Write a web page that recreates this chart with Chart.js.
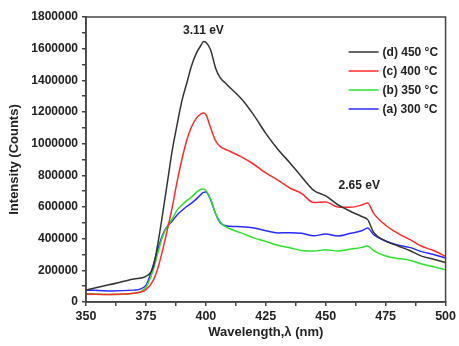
<!DOCTYPE html>
<html>
<head>
<meta charset="utf-8">
<script src="https://cdn.jsdelivr.net/npm/chart.js@4/dist/chart.umd.min.js"></script>
<style>
  html, body { margin: 0; padding: 0; background: #fff; }
  #wrap { width: 459px; height: 346px; }
</style>
</head>
<body>
<div id="wrap"><canvas id="plChart"></canvas></div>
<script>
// wavelength grid (nm)
const wavelength = [350, 360, 370, 375, 378, 380, 382, 384, 386, 388, 390, 392, 394, 396, 398, 399, 400,
  402, 404, 406, 408, 410, 415, 420, 425, 430, 435, 440, 445, 450, 455, 460, 465, 467.5, 470, 475, 480,
  485, 490, 495, 500]

// PL intensity (counts) per annealing temperature
const t450 = [75000, 110000, 145000, 162000, 220000, 370000, 560000, 760000, 960000, 1120000, 1270000,
  1380000, 1490000, 1570000, 1622000, 1645000, 1640000, 1592000, 1480000, 1415000, 1385000, 1355000,
  1280000, 1180000, 1065000, 965000, 880000, 790000, 705000, 670000, 615000, 575000, 540000, 520000,
  440000, 385000, 355000, 325000, 290000, 270000, 250000]
const t400 = [50000, 48000, 55000, 78000, 135000, 215000, 330000, 460000, 600000, 760000, 900000,
  1020000, 1105000, 1160000, 1188000, 1194000, 1185000, 1100000, 1020000, 982000, 965000, 952000,
  915000, 870000, 815000, 770000, 720000, 685000, 628000, 632000, 600000, 598000, 612000, 625000,
  560000, 485000, 435000, 395000, 352000, 325000, 288000]
const t350 = [52000, 47000, 55000, 92000, 200000, 310000, 415000, 480000, 525000, 580000, 612000,
  640000, 662000, 692000, 712000, 714000, 705000, 650000, 560000, 505000, 478000, 463000,
  435000, 405000, 383000, 358000, 343000, 325000, 322000, 330000, 322000, 333000, 345000, 354000,
  325000, 290000, 275000, 264000, 240000, 222000, 203000]
const t300 = [76000, 70000, 75000, 105000, 230000, 335000, 425000, 480000, 512000, 550000, 578000,
  603000, 625000, 650000, 680000, 692000, 695000, 645000, 560000, 500000, 483000, 478000,
  475000, 467000, 450000, 436000, 438000, 434000, 418000, 430000, 417000, 432000, 450000, 467000,
  425000, 385000, 360000, 345000, 318000, 300000, 278000]

const seriesLabels = ['(d) 450 °C', '(c) 400 °C', '(b) 350 °C', '(a) 300 °C']
const seriesColors = ['#333333', '#ff2a2a', '#2ee02e', '#2a2aff']
const seriesValues = [t450, t400, t350, t300]

// peak annotations: [label, wavelength, intensity]
const peakNotes = [['3.11 eV', 399, 1645000], ['2.65 eV', 464, 625000]]

const ink = '#222'
const font = 'Liberation Sans, Arial, sans-serif'

const framePlugin = {
  id: 'frame',
  afterDraw (chart) {
    const { ctx, chartArea: a, scales } = chart
    ctx.save()
    ctx.strokeStyle = '#444'
    ctx.lineWidth = 1.5
    ctx.strokeRect(a.left, a.top, a.right - a.left, a.bottom - a.top)

    // peak labels
    ctx.fillStyle = ink
    ctx.font = 'bold 12px ' + font
    ctx.textAlign = 'center'
    ctx.textBaseline = 'bottom'
    peakNotes.forEach(([txt, x, y], i) => {
      const px = scales.x.getPixelForValue(x)
      const py = scales.y.getPixelForValue(y)
      ctx.fillText(txt, px, py - (i === 0 ? 5 : 11))
    })

    // legend, top right inside the plot
    ctx.textAlign = 'left'
    ctx.textBaseline = 'middle'
    const lx = a.right - 97
    chart.data.datasets.forEach((ds, i) => {
      const ly = a.top + 35 + i * 19
      ctx.strokeStyle = ds.borderColor
      ctx.lineWidth = 1.5
      ctx.beginPath()
      ctx.moveTo(lx, ly)
      ctx.lineTo(lx + 30, ly)
      ctx.stroke()
      ctx.fillText(ds.label, lx + 34, ly + 1)
    })
    ctx.restore()
  }
}

new Chart(document.getElementById('plChart'), {
  type: 'line',
  data: {
    datasets: seriesValues.map((vals, i) => ({
      label: seriesLabels[i],
      data: wavelength.map((w, j) => ({ x: w, y: vals[j] })),
      borderColor: seriesColors[i],
      borderWidth: 1.5,
      pointRadius: 0,
      cubicInterpolationMode: 'monotone',
      fill: false
    }))
  },
  options: {
    responsive: true,
    maintainAspectRatio: false,
    animation: false,
    layout: { padding: { top: 17, right: 11, left: 0, bottom: 0 } },
    plugins: { legend: { display: false }, tooltip: { enabled: false } },
    scales: {
      x: {
        type: 'linear',
        min: 350,
        max: 500,
        afterFit (s) { s.height = 44 },
        ticks: {
          stepSize: 12.5,
          autoSkip: false,
          maxRotation: 0,
          padding: 3,
          color: ink,
          font: { family: font, size: 12.5, weight: 'bold' },
          callback: v => v % 25 === 0 ? String(v) : ''
        },
        grid: { drawOnChartArea: false, tickLength: 4, color: '#444', lineWidth: 1.5 },
        border: { color: '#444', width: 1.5 },
        title: {
          display: true,
          text: 'Wavelength,λ (nm)',
          color: ink,
          font: { family: font, size: 13, weight: 'bold' },
          padding: { top: 0, bottom: 6 }
        }
      },
      y: {
        min: 0,
        max: 1800000,
        afterFit (s) { s.width = 86 },
        ticks: {
          stepSize: 100000,
          autoSkip: false,
          padding: 4,
          color: ink,
          font: { family: font, size: 12, weight: 'bold' },
          callback: v => v % 200000 === 0 ? String(v) : ''
        },
        grid: { drawOnChartArea: false, tickLength: 4, color: '#444', lineWidth: 1.5 },
        border: { color: '#444', width: 1.5 },
        title: {
          display: true,
          text: 'Intensity (Counts)',
          color: ink,
          font: { family: font, size: 13, weight: 'bold' },
          padding: { top: 7, bottom: 0 }
        }
      }
    }
  },
  plugins: [framePlugin]
})
</script>
</body>
</html>
